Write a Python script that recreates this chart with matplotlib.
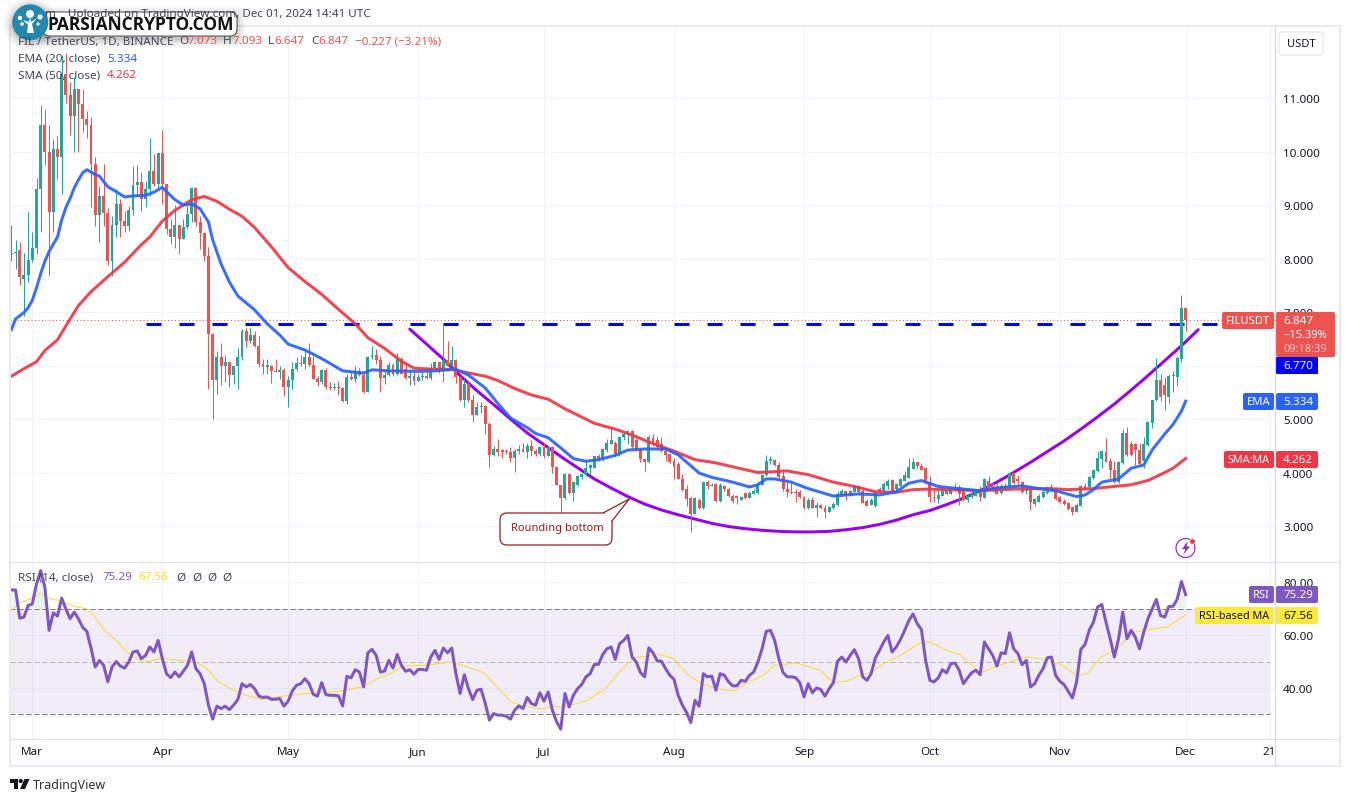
import numpy as np
import matplotlib
matplotlib.use('Agg')
import matplotlib.pyplot as plt
from matplotlib.patches import FancyBboxPatch, Polygon, Circle, Rectangle, Arc

plt.rcParams['font.family'] = ['Noto Sans', 'DejaVu Sans']

# x = days since Mar 1 2024
days = np.arange(-5, 276)

opens = [8.08, 8.10, 8.15, 7.62, 7.70,
         7.97, 8.20, 9.30, 10.50, 10.00, 8.87, 10.05, 9.90, 11.45, 11.05,
         10.67, 11.17, 10.89, 10.60, 10.49, 9.77, 8.81, 9.17, 8.85, 7.96,
         8.62, 9.02, 8.71, 8.60, 8.90, 9.37, 9.43, 9.11, 9.30, 9.64,
         9.39, 9.97, 9.39, 8.55, 8.41, 8.62, 8.36, 8.58, 8.83, 9.31,
         8.68, 8.48, 8.04, 6.59, 5.72, 6.16, 6.00, 6.06, 5.83, 6.00,
         6.15, 6.64, 6.46, 6.57, 6.37, 6.03, 5.98, 6.00, 5.90, 5.87,
         5.91, 5.60, 5.72, 5.93, 6.04, 6.03, 6.15, 6.01, 5.75, 5.69,
         5.92, 5.60, 5.58, 5.60, 5.58, 5.34, 5.78, 5.74, 5.88, 5.82,
         5.51, 6.15, 6.20, 6.10, 5.76, 5.82, 6.01, 5.84, 6.12, 5.93,
         5.76, 5.80, 5.71, 5.78, 5.80, 5.77, 5.95, 6.07, 5.92, 6.10,
         6.00, 6.10, 5.78, 5.35, 5.65, 5.35, 5.08, 5.22, 5.24, 4.91,
         4.33, 4.44, 4.40, 4.39, 4.38, 4.27, 4.40, 4.44, 4.39, 4.50,
         4.40, 4.34, 4.48, 4.31, 4.48, 4.10, 3.77, 3.52, 3.97, 3.61,
         3.76, 3.92, 3.97, 4.08, 4.09, 4.30, 4.25, 4.42, 4.53, 4.55,
         4.35, 4.66, 4.72, 4.78, 4.60, 4.44, 4.26, 4.19, 4.64, 4.60,
         4.53, 4.41, 4.34, 4.22, 4.16, 3.88, 3.70, 3.52, 3.22, 3.49,
         3.34, 3.83, 3.75, 3.79, 3.47, 3.75, 3.70, 3.57, 3.55, 3.49,
         3.61, 3.53, 3.60, 3.62, 3.77, 3.95, 4.22, 4.24, 4.14, 3.93,
         3.70, 3.63, 3.63, 3.64, 3.55, 3.33, 3.49, 3.33, 3.39, 3.34,
         3.27, 3.33, 3.39, 3.58, 3.65, 3.58, 3.64, 3.75, 3.66, 3.47,
         3.40, 3.37, 3.70, 3.66, 3.75, 3.86, 3.70, 3.75, 3.85, 3.90,
         4.07, 4.20, 4.13, 4.08, 3.82, 3.55, 3.50, 3.57, 3.66, 3.60,
         3.70, 3.73, 3.63, 3.49, 3.55, 3.57, 3.63, 3.53, 3.85, 3.78,
         3.74, 3.62, 3.74, 3.74, 4.00, 3.87, 3.83, 3.65, 3.74, 3.42,
         3.45, 3.54, 3.62, 3.67, 3.70, 3.55, 3.47, 3.43, 3.35, 3.27,
         3.38, 3.74, 3.73, 3.90, 4.03, 4.26, 4.39, 4.22, 4.05, 3.82,
         4.18, 4.74, 4.53, 4.53, 4.43, 4.22, 4.52, 4.93, 5.35, 5.73,
         5.63, 5.42, 5.80, 5.79, 6.12, 7.073]

highs = [8.62, 8.34, 8.30, 8.10, 8.87,
         8.50, 9.50, 10.87, 10.80, 10.50, 10.24, 10.29, 11.80, 11.84, 11.30,
         11.39, 11.17, 11.17, 10.76, 10.64, 9.90, 9.36, 9.77, 8.95, 8.80,
         9.30, 9.11, 8.89, 8.99, 9.73, 9.75, 9.61, 9.45, 10.25, 9.95,
         9.98, 10.40, 9.39, 8.74, 9.00, 8.63, 8.74, 8.99, 9.33, 9.33,
         8.80, 8.49, 8.21, 6.60, 6.28, 6.42, 6.20, 6.07, 6.00, 6.33,
         6.68, 6.71, 6.71, 6.65, 6.55, 6.12, 6.12, 6.01, 6.12, 6.00,
         5.96, 5.81, 6.06, 6.15, 6.20, 6.30, 6.42, 6.18, 5.81, 5.93,
         5.96, 5.69, 5.67, 5.71, 5.60, 5.84, 5.90, 5.99, 5.96, 5.87,
         6.18, 6.36, 6.30, 6.18, 5.90, 6.06, 6.04, 6.23, 6.15, 6.06,
         5.93, 5.93, 5.84, 5.90, 5.90, 6.04, 6.09, 6.06, 6.76, 6.46,
         6.37, 6.13, 5.81, 5.75, 5.72, 5.47, 5.31, 5.31, 5.26, 4.94,
         4.50, 4.62, 4.44, 4.44, 4.47, 4.44, 4.52, 4.56, 4.56, 4.60,
         4.44, 4.50, 4.56, 4.50, 4.50, 4.13, 3.77, 4.00, 3.97, 3.85,
         3.95, 3.97, 4.22, 4.16, 4.31, 4.35, 4.45, 4.63, 4.83, 4.58,
         4.69, 4.77, 4.80, 4.80, 4.62, 4.46, 4.26, 4.70, 4.72, 4.68,
         4.66, 4.45, 4.35, 4.28, 4.19, 3.97, 3.77, 3.57, 3.54, 3.52,
         3.83, 3.86, 3.80, 3.80, 3.80, 3.77, 3.72, 3.60, 3.58, 3.57,
         3.62, 3.65, 3.70, 3.85, 3.97, 4.33, 4.30, 4.25, 4.19, 4.06,
         3.88, 3.82, 3.70, 3.68, 3.56, 3.52, 3.55, 3.45, 3.42, 3.39,
         3.37, 3.45, 3.66, 3.70, 3.66, 3.68, 3.77, 3.77, 3.69, 3.50,
         3.52, 3.64, 3.72, 3.82, 3.87, 3.88, 3.81, 3.89, 4.03, 4.28,
         4.28, 4.22, 4.17, 4.10, 3.94, 3.68, 3.68, 3.72, 3.69, 3.72,
         3.80, 3.76, 3.70, 3.60, 3.63, 3.66, 3.75, 3.90, 3.94, 3.81,
         3.81, 3.78, 3.81, 4.01, 4.01, 3.95, 3.85, 3.77, 3.75, 3.53,
         3.60, 3.69, 3.74, 3.78, 3.72, 3.57, 3.50, 3.44, 3.37, 3.43,
         3.77, 3.80, 3.94, 4.06, 4.40, 4.42, 4.64, 4.28, 4.22, 4.22,
         4.81, 4.86, 4.58, 4.56, 4.56, 4.66, 4.97, 5.36, 6.14, 5.85,
         5.78, 5.84, 5.90, 6.18, 7.32, 7.093]

lows = [7.96, 7.81, 7.50, 6.93, 7.57,
        7.93, 8.09, 8.50, 9.74, 7.68, 8.50, 9.49, 9.20, 10.90, 10.30,
        10.00, 10.00, 10.36, 10.25, 8.96, 8.60, 8.30, 8.60, 7.87, 7.68,
        8.41, 8.40, 8.49, 8.52, 8.81, 9.17, 8.89, 8.96, 9.17, 9.36,
        9.30, 9.02, 8.46, 8.27, 8.20, 8.08, 8.36, 8.55, 8.68, 8.60,
        8.18, 7.96, 5.56, 5.00, 5.47, 5.63, 5.70, 5.60, 5.66, 5.56,
        6.10, 6.34, 6.43, 6.34, 5.98, 5.84, 5.84, 5.68, 5.87, 5.75,
        5.43, 5.22, 5.56, 5.90, 6.00, 5.93, 6.00, 5.75, 5.62, 5.65,
        5.56, 5.55, 5.55, 5.44, 5.32, 5.28, 5.72, 5.69, 5.80, 5.49,
        5.50, 6.13, 6.03, 5.50, 5.65, 5.80, 5.80, 5.83, 5.84, 5.75,
        5.64, 5.64, 5.71, 5.72, 5.75, 5.72, 5.90, 5.86, 5.70, 6.00,
        5.99, 5.68, 5.34, 5.22, 5.31, 4.95, 5.07, 5.12, 4.72, 4.11,
        4.30, 4.30, 4.28, 4.34, 4.20, 4.01, 4.35, 4.38, 4.28, 4.30,
        4.30, 4.30, 4.28, 4.30, 4.00, 3.77, 3.25, 3.50, 3.60, 3.46,
        3.74, 3.88, 3.94, 3.97, 4.08, 4.22, 4.22, 4.38, 4.53, 4.30,
        4.30, 4.60, 4.53, 4.46, 4.40, 4.20, 4.03, 4.18, 4.50, 4.46,
        4.38, 4.22, 4.18, 3.88, 3.88, 3.65, 3.38, 2.88, 3.22, 3.32,
        3.32, 3.70, 3.74, 3.45, 3.45, 3.65, 3.55, 3.43, 3.42, 3.48,
        3.50, 3.52, 3.60, 3.60, 3.76, 3.93, 4.16, 4.13, 3.90, 3.66,
        3.55, 3.60, 3.45, 3.53, 3.31, 3.32, 3.33, 3.16, 3.31, 3.15,
        3.26, 3.32, 3.38, 3.57, 3.49, 3.57, 3.63, 3.60, 3.43, 3.37,
        3.39, 3.36, 3.60, 3.63, 3.70, 3.60, 3.68, 3.74, 3.84, 3.89,
        4.06, 4.08, 4.04, 3.78, 3.45, 3.44, 3.43, 3.56, 3.58, 3.59,
        3.69, 3.39, 3.46, 3.44, 3.53, 3.56, 3.47, 3.52, 3.70, 3.63,
        3.60, 3.60, 3.69, 3.72, 3.78, 3.78, 3.62, 3.60, 3.29, 3.38,
        3.44, 3.52, 3.60, 3.65, 3.49, 3.43, 3.39, 3.30, 3.21, 3.26,
        3.37, 3.68, 3.72, 3.88, 4.01, 4.08, 4.19, 3.88, 3.80, 3.80,
        4.15, 4.31, 4.31, 4.14, 4.14, 4.08, 4.50, 4.83, 5.34, 5.34,
        5.16, 5.30, 5.50, 5.62, 6.06, 6.647]

closes = [8.10, 8.13, 7.65, 7.70, 7.97,
          8.20, 9.30, 10.50, 10.00, 8.87, 10.05, 9.90, 11.45, 11.05, 10.67,
          11.17, 10.89, 10.60, 10.49, 9.77, 8.81, 9.17, 8.85, 7.96, 8.62,
          9.02, 8.71, 8.60, 8.90, 9.37, 9.43, 9.11, 9.30, 9.64, 9.39,
          9.97, 9.39, 8.55, 8.41, 8.62, 8.36, 8.58, 8.83, 9.31, 8.68,
          8.48, 8.04, 6.59, 5.72, 6.16, 6.00, 6.06, 5.83, 6.00, 6.15,
          6.64, 6.46, 6.57, 6.37, 6.03, 5.98, 6.00, 5.90, 5.87, 5.91,
          5.60, 5.72, 5.93, 6.04, 6.03, 6.15, 6.01, 5.75, 5.69, 5.92,
          5.60, 5.58, 5.58, 5.58, 5.34, 5.78, 5.74, 5.88, 5.82, 5.51,
          6.15, 6.20, 6.10, 5.76, 5.82, 6.01, 5.84, 6.12, 5.84, 5.76,
          5.80, 5.71, 5.78, 5.80, 5.77, 5.95, 6.07, 5.92, 6.10, 6.00,
          6.10, 5.78, 5.35, 5.65, 5.35, 5.08, 5.22, 5.24, 4.91, 4.33,
          4.44, 4.38, 4.39, 4.38, 4.27, 4.40, 4.44, 4.39, 4.50, 4.40,
          4.34, 4.48, 4.31, 4.48, 4.10, 3.77, 3.52, 3.97, 3.61, 3.82,
          3.93, 3.97, 4.08, 4.14, 4.30, 4.23, 4.44, 4.55, 4.60, 4.35,
          4.66, 4.72, 4.78, 4.48, 4.44, 4.26, 4.19, 4.66, 4.53, 4.48,
          4.41, 4.32, 4.19, 4.10, 3.88, 3.68, 3.50, 3.22, 3.52, 3.34,
          3.83, 3.74, 3.77, 3.47, 3.77, 3.69, 3.57, 3.47, 3.53, 3.55,
          3.53, 3.62, 3.66, 3.79, 3.95, 4.22, 4.23, 4.14, 3.92, 3.69,
          3.63, 3.62, 3.62, 3.54, 3.33, 3.49, 3.33, 3.39, 3.33, 3.27,
          3.35, 3.41, 3.60, 3.66, 3.57, 3.66, 3.75, 3.63, 3.43, 3.38,
          3.49, 3.62, 3.62, 3.79, 3.85, 3.63, 3.78, 3.87, 3.95, 4.10,
          4.20, 4.13, 4.05, 3.80, 3.54, 3.52, 3.58, 3.66, 3.60, 3.70,
          3.71, 3.60, 3.49, 3.57, 3.60, 3.63, 3.55, 3.88, 3.71, 3.70,
          3.60, 3.75, 3.70, 3.99, 3.80, 3.84, 3.63, 3.73, 3.45, 3.50,
          3.57, 3.63, 3.70, 3.72, 3.50, 3.44, 3.41, 3.32, 3.26, 3.39,
          3.74, 3.70, 3.91, 4.05, 4.27, 4.41, 4.20, 4.05, 3.83, 4.20,
          4.74, 4.33, 4.33, 4.42, 4.15, 4.53, 4.94, 5.35, 5.73, 5.42,
          5.44, 5.81, 5.81, 6.14, 7.07, 6.847]

ema_days = [-5, -4, -3, -2, -1, 0, 1, 2, 3, 4, 5, 6, 7, 8, 9, 10, 11, 12, 13, 15, 16, 18, 20, 22, 24, 27, 29, 31, 32,
            34, 36, 38, 40, 42, 43, 45, 47, 49, 53, 56, 59, 61, 65, 69, 74, 79, 81, 85, 92, 96, 101, 104, 108, 111,
            114, 118, 120, 123, 126, 129, 132, 135, 139, 142, 146, 151, 154, 159, 162, 167, 171, 173, 175, 177, 181,
            185, 191, 197, 202, 206, 209, 212, 216, 222, 226, 231, 236, 240, 244, 249, 251, 253, 255, 259, 262, 265,
            267, 270, 272, 274, 275]
ema_vals = [6.67, 6.87, 6.93, 6.99, 7.08, 7.22, 7.45, 7.72, 7.95, 8.13, 8.27, 8.40, 8.72, 8.95, 9.12, 9.32, 9.47, 9.60,
            9.66, 9.57, 9.54, 9.34, 9.25, 9.15, 9.17, 9.18, 9.24, 9.33, 9.25, 9.10, 9.00, 9.02, 8.93, 8.68, 8.35, 7.90,
            7.56, 7.30, 7.04, 6.78, 6.57, 6.40, 6.29, 6.13, 5.90, 5.86, 5.92, 5.90, 5.89, 5.90, 5.93, 5.82, 5.58, 5.29,
            5.02, 4.84, 4.73, 4.65, 4.46, 4.26, 4.21, 4.24, 4.32, 4.42, 4.44, 4.44, 4.33, 3.99, 3.91, 3.82, 3.73, 3.77,
            3.88, 3.88, 3.82, 3.70, 3.56, 3.60, 3.58, 3.64, 3.80, 3.85, 3.74, 3.69, 3.66, 3.72, 3.75, 3.70, 3.66, 3.55,
            3.58, 3.68, 3.82, 3.88, 4.08, 4.14, 4.42, 4.72, 4.90, 5.15, 5.334]

sma_days = [-5, -2, 1, 3, 6, 9, 11, 14, 18, 22, 26, 28, 31, 34, 38, 41, 44, 47, 50, 53, 57, 61, 65, 69, 73, 77, 80, 84,
            88, 91, 96, 100, 104, 108, 111, 115, 119, 123, 127, 134, 139, 143, 147, 153, 158, 163, 169, 173, 180, 185,
            191, 196, 201, 206, 210, 214, 226, 234, 242, 247, 253, 258, 262, 266, 270, 272, 275]
sma_vals = [5.80, 5.94, 6.07, 6.28, 6.48, 6.87, 7.12, 7.38, 7.66, 7.93, 8.26, 8.40, 8.70, 8.90, 9.10, 9.16, 9.07, 8.92,
            8.79, 8.58, 8.22, 7.83, 7.57, 7.33, 7.05, 6.78, 6.52, 6.32, 6.08, 5.95, 5.93, 5.93, 5.86, 5.80, 5.72, 5.57,
            5.45, 5.37, 5.19, 4.92, 4.81, 4.70, 4.57, 4.40, 4.24, 4.18, 4.07, 4.00, 4.03, 3.96, 3.82, 3.74, 3.64, 3.63,
            3.68, 3.69, 3.66, 3.69, 3.70, 3.68, 3.70, 3.74, 3.77, 3.85, 4.00, 4.08, 4.262]

curve_days = [90, 94, 98, 102, 106, 110, 114, 118, 122, 126, 130, 134, 138, 142, 146, 150, 154, 158, 162, 166, 170,
              174, 178, 182, 186, 190, 194, 198, 202, 206, 210, 214, 218, 222, 226, 230, 234, 238, 242, 246, 250, 254,
              258, 262, 266, 270, 274, 278]
curve_vals = [6.68, 6.40, 6.12, 5.81, 5.53, 5.27, 5.00, 4.74, 4.52, 4.30, 4.09, 3.88, 3.71, 3.55, 3.41, 3.30, 3.21,
              3.13, 3.05, 2.99, 2.95, 2.92, 2.90, 2.89, 2.89, 2.90, 2.93, 2.97, 3.03, 3.11, 3.21, 3.29, 3.40, 3.52,
              3.66, 3.82, 4.00, 4.19, 4.39, 4.59, 4.81, 5.04, 5.28, 5.54, 5.81, 6.09, 6.37, 6.67]

rsi_vals = [77.1, 77.1, 66.4, 66.8, 71.2,
            71.8, 79.4, 84.4, 78.1, 61.8, 68.4, 67.2, 74.0, 69.9, 66.2,
            68.7, 66.2, 63.0, 61.4, 55.1, 47.9, 50.4, 48.6, 42.3, 47.9,
            50.0, 48.3, 47.5, 49.8, 53.6, 54.0, 51.1, 52.3, 55.5, 53.6,
            58.0, 51.1, 45.4, 43.9, 46.0, 44.2, 46.3, 48.6, 53.6, 47.3,
            45.4, 41.6, 33.5, 28.2, 33.1, 32.2, 33.1, 31.8, 33.5, 35.6,
            41.6, 40.4, 41.3, 39.7, 36.9, 36.4, 36.6, 35.7, 35.7, 36.0,
            33.1, 35.0, 38.9, 41.0, 41.6, 43.5, 41.6, 37.6, 36.9, 42.0,
            37.5, 37.2, 37.2, 37.0, 33.2, 44.4, 43.8, 46.9, 46.0, 40.4,
            53.3, 54.6, 52.3, 46.0, 46.4, 50.4, 47.5, 52.7, 48.6, 46.3,
            46.9, 45.2, 47.0, 47.0, 46.7, 51.7, 54.2, 50.8, 55.1, 53.3,
            55.1, 45.4, 37.9, 45.0, 39.7, 35.6, 39.1, 39.5, 34.1, 27.8,
            30.3, 29.7, 29.7, 29.3, 28.2, 31.6, 33.2, 32.2, 36.4, 34.1,
            33.5, 38.2, 35.0, 38.5, 31.6, 27.2, 24.4, 37.9, 32.8, 37.2,
            39.7, 41.3, 44.2, 45.4, 48.9, 48.9, 52.6, 54.8, 55.5, 50.8,
            56.7, 58.0, 59.9, 51.7, 49.8, 45.8, 44.2, 55.2, 53.3, 50.2,
            50.1, 47.3, 44.8, 43.3, 37.2, 33.5, 30.7, 26.9, 35.3, 33.1,
            45.4, 44.2, 44.5, 39.1, 45.4, 44.8, 42.3, 40.8, 40.8, 42.9,
            42.5, 44.8, 46.0, 49.8, 54.8, 61.4, 61.8, 58.0, 51.1, 45.8,
            44.2, 44.2, 43.9, 42.0, 36.6, 41.6, 38.2, 40.0, 39.4, 36.9,
            39.7, 42.0, 50.1, 51.7, 49.8, 52.3, 54.5, 51.1, 44.2, 42.9,
            45.4, 51.3, 54.2, 57.4, 59.9, 53.6, 55.5, 58.3,
            61.8, 65.5, 68.0, 64.3, 62.1, 50.4, 42.9, 42.3, 43.8, 46.9,
            45.7, 49.2, 49.4, 46.7, 41.6, 43.8, 45.8, 46.7, 45.0, 57.4,
            54.8, 52.3, 48.3, 53.3, 53.0, 60.9, 54.8, 53.0, 48.8, 50.4,
            40.4, 41.6, 44.8, 47.3, 51.4, 51.7, 44.8, 42.5, 41.3, 38.7,
            36.2, 42.3, 54.6, 56.4, 61.8, 64.9, 70.6, 71.6, 64.9, 58.6,
            51.7, 58.6, 68.7, 58.6, 61.8, 59.2, 54.8, 61.1, 66.2, 69.9,
            73.5, 67.4, 66.8, 70.8, 70.9, 73.7, 80.3, 75.29]

rsi_ma_days = [-5, -3, 0, 2, 4, 7, 10, 13, 15, 17, 20, 22.5, 25, 27, 31, 35, 39, 41.6, 44.4, 48, 51, 54.7, 58.3, 61.4,
               65.4, 74.2, 79, 82, 85.3, 88.5, 94, 99.6, 102, 107.6, 111.6, 114, 117, 122, 123.5, 126.6, 132.2, 136.6,
               140.2, 143.3, 146.5, 149.3, 152.9, 156, 159.2, 163.2, 167.2, 171, 174.3, 177, 182.3, 187.9, 191, 194.2,
               197.4, 200, 203, 207, 210, 212.5, 214, 218, 221.2, 226, 230, 234, 237, 242, 246, 249, 251.5, 254.8,
               258.6, 262.6, 265.7, 268, 270.5, 272.9, 275]
rsi_ma_vals = [69.3, 72.2, 74.0, 75.8, 74.0, 72.7, 70.9, 69.9, 66.8, 62.1, 58.0, 53.6, 51.1, 49.8, 51.3, 50.4, 49.8,
               47.3, 42.3, 39.1, 37.2, 35.6, 36.6, 37.2, 37.9, 38.9, 40.6, 43.3, 45.4, 48.3, 48.6, 49.8, 48.8, 45.8,
               39.1, 35.0, 33.1, 32.0, 33.1, 32.6, 35.3, 39.7, 46.4, 51.3, 52.0, 52.9, 51.1, 45.4, 42.0, 39.5, 38.9,
               42.3, 44.8, 48.6, 49.4, 46.7, 41.9, 42.6, 44.8, 46.0, 49.2, 52.3, 55.5, 57.4, 57.4, 54.2, 52.6, 45.8,
               48.2, 50.4, 51.7, 50.7, 48.3, 44.5, 45.4, 51.7, 54.8, 61.1, 61.8, 62.6, 63.0, 65.5, 67.56]

month_days = [0, 31, 61, 92, 122, 153, 184, 214, 245, 275, 295]
month_labels = ['Mar', 'Apr', 'May', 'Jun', 'Jul', 'Aug', 'Sep', 'Oct', 'Nov', 'Dec', '21']
price_ticks = [3, 4, 5, 6, 7, 8, 9, 10, 11]
rsi_ticks = [40, 60, 80]
resistance = 6.77
last_close = 6.847

UP = '#26A69A'
DOWN = '#EF5350'
EMA_C = '#2962FF'
SMA_C = '#F23645'
RSI_C = '#7E57C2'
MA_C = '#FDD835'
GRID = '#F0F3FA'
FRAME = '#E0E3EB'
TXT = '#131722'
LEG = '#434651'

W, H = 1350, 803
PX = 0.72  # points per pixel at dpi 100
FS = 8.4


def box(left, top, right, bottom):
    return [left / W, 1 - bottom / H, (right - left) / W, (bottom - top) / H]


fig = plt.figure(figsize=(13.5, 8.03), dpi=100)
ax = fig.add_axes(box(10, 27, 1275, 562))
rsi_ax = fig.add_axes(box(10, 563, 1275, 740))

# ---- price pane ----
ax.set_xlim(-5.32, 296.3)
ax.set_ylim(2.346, 12.346)
ax.set_xticks(month_days)
ax.set_yticks(price_ticks)
ax.set_yticklabels(['%.3f' % t for t in price_ticks], fontsize=FS, color=TXT)
ax.yaxis.tick_right()
ax.tick_params(axis='y', length=0, pad=5.8)
ax.tick_params(axis='x', length=0, labelbottom=False)
ax.grid(True, color=GRID, lw=1 * PX)
ax.set_axisbelow(True)
for s in ax.spines.values():
    s.set_visible(False)

ax.axhline(last_close, color=DOWN, lw=1 * PX, dashes=(1, 2.5), zorder=1.5)
ax.plot([27.12, 282.6], [resistance, resistance], color='#0000FF', lw=3 * PX, dashes=(5, 6),
        dash_capstyle='butt', zorder=2)
ax.plot(curve_days, curve_vals, color='#9900EF', lw=3 * PX, solid_capstyle='round', zorder=2.5)

o = np.array(opens)
h = np.array(highs)
l = np.array(lows)
c = np.array(closes)
colors = [UP if cc >= oo else DOWN for oo, cc in zip(o, c)]
ax.vlines(days, l, h, colors=colors, lw=1 * PX, zorder=3)
ax.bar(days, np.maximum(np.abs(c - o), 0.025), bottom=np.minimum(o, c), width=0.7, color=colors, lw=0, zorder=3)

ax.plot(sma_days, sma_vals, color=SMA_C, lw=3 * PX, alpha=0.92, solid_joinstyle='round', zorder=4)
ax.plot(ema_days, ema_vals, color=EMA_C, lw=3 * PX, alpha=0.92, solid_joinstyle='round', zorder=5)

# ---- rsi pane ----
rsi = np.array(rsi_vals)
rsi_ax.set_xlim(-5.32, 296.3)
rsi_ax.set_ylim(20.68, 87.66)
rsi_ax.set_xticks(month_days)
rsi_ax.set_xticklabels(month_labels, fontsize=FS, color=TXT)
rsi_ax.set_yticks(rsi_ticks)
rsi_ax.set_yticklabels(['%.2f' % t for t in rsi_ticks], fontsize=FS, color=TXT)
rsi_ax.yaxis.tick_right()
rsi_ax.tick_params(axis='y', length=0, pad=5.8)
rsi_ax.tick_params(axis='x', length=0, pad=5)
rsi_ax.grid(True, color=GRID, lw=1 * PX)
rsi_ax.set_axisbelow(True)
for s in rsi_ax.spines.values():
    s.set_visible(False)

rsi_ax.fill_between([-5.32, 295], 30, 70, color=RSI_C, alpha=0.1, lw=0, zorder=1)
rsi_ax.plot([-5.32, 295], [70, 70], color='#787B86', lw=1 * PX, dashes=(5, 3), zorder=2)
rsi_ax.plot([-5.32, 295], [50, 50], color='#787B86', lw=1 * PX, dashes=(5, 3), alpha=0.5, zorder=2)
rsi_ax.plot([-5.32, 295], [30, 30], color='#787B86', lw=1 * PX, dashes=(5, 3), zorder=2)
rsi_ax.fill_between(days, 70, rsi, where=rsi > 70, interpolate=True, color='#4CAF50', alpha=0.12, lw=0, zorder=2)
rsi_ax.plot(rsi_ma_days, rsi_ma_vals, color=MA_C, lw=1 * PX, zorder=3)
rsi_ax.plot(days, rsi, color=RSI_C, lw=3 * PX, solid_joinstyle='round', zorder=4)

# ---- overlay in pixel coordinates for frame, labels and tags ----
ov = fig.add_axes([0, 0, 1, 1], zorder=10)
ov.set_xlim(0, W)
ov.set_ylim(H, 0)
ov.axis('off')
ov.patch.set_alpha(0)

ov.add_patch(Rectangle((10, 27), 1330, 740, fill=False, ec='#E8EAF0', lw=2 * PX))
ov.plot([10, 1340], [562.5, 562.5], color=FRAME, lw=1.2 * PX)
ov.plot([10, 1340], [740, 740], color=FRAME, lw=1.2 * PX)
ov.plot([1275, 1275], [27, 767], color='#D6D8E0', lw=1.2 * PX)


def label(x, y, s, color=LEG, size=FS, ha='left', **kw):
    ov.text(x, y, s, color=color, fontsize=size, ha=ha, va='center', **kw)


def filled(x0, x1, y0, y1, color, r=2):
    ov.add_patch(FancyBboxPatch((x0, y0), x1 - x0, y1 - y0, boxstyle='round,pad=0,rounding_size=%g' % r,
                                fc=color, ec='none', mutation_aspect=1))


# legend lines
label(371, 14, 'm    Uploaded on TradingView.com, Dec 01, 2024 14:41 UTC', ha='right')
label(18, 42, 'FIL / TetherUS, 1D, BINANCE')
for x, s in [(179, 'O'), (223, 'H'), (268, 'L'), (311, 'C')]:
    label(x, 42, s)
for x, s in [(187, '7.073'), (232, '7.093'), (274, '6.647'), (318, '6.847'), (355, '\u22120.227 (\u22123.21%)')]:
    label(x, 42, s, color=DOWN)
label(18, 59, 'EMA (20, close)')
label(107, 59, '5.334', color=EMA_C)
label(18, 76, 'SMA (50, close)')
label(107, 76, '4.262', color=SMA_C)
label(18, 578, 'RSI (14, close)')
label(102, 578, '75.29', color=RSI_C)
label(138, 578, '67.56', color=MA_C)
for x in [176, 192, 207, 222]:
    label(x, 578, '\u00d8')

# watermark
for grow, al in [(9, 0.02), (7, 0.03), (5, 0.04), (3, 0.06), (1, 0.08)]:
    ov.add_patch(FancyBboxPatch((43 - grow, 13 - grow + 3), 194 + 2 * grow, 24 + 2 * grow,
                                boxstyle='round,pad=0,rounding_size=8', fc='#000000', ec='none', alpha=al))
    ov.add_patch(Circle((30.3, 25), 18 + grow, fc='#000000', ec='none', alpha=al))
ov.add_patch(FancyBboxPatch((43, 13), 194, 24, boxstyle='round,pad=0,rounding_size=7', fc='white', ec='#222222',
                            lw=0.8 * PX))
ov.add_patch(Circle((30.3, 23.3), 18, fc='#2488AE', ec='none'))
ov.add_patch(Polygon([[27, 34], [34, 34], [32, 25], [37, 19], [31, 23], [30, 17], [29, 23], [23, 21], [28, 26]],
                     fc='white', ec='none'))
for cx, cy, r in [(30, 15, 4), (20, 19, 2.2), (40, 18, 2.6), (22, 25, 1.8), (38, 25, 1.6)]:
    ov.add_patch(Circle((cx, cy), r, fc='white', ec='none'))
ov.text(140.5, 25, 'PARSIANCRYPTO.COM', color='#111111', fontsize=12.5, fontweight='bold', ha='center', va='center',
        family='Open Sans')

# callout
ov.add_patch(FancyBboxPatch((500, 514), 112, 32, boxstyle='round,pad=0,rounding_size=7', fc='white', ec='#8E1B1B',
                            lw=1.2 * PX))
ov.add_patch(Polygon([[604, 514], [629.3, 500], [612, 522]], fc='white', ec='none'))
ov.plot([604, 629.3, 612], [513.5, 500, 522], color='#8E1B1B', lw=1.2 * PX)
label(557, 529, 'Rounding bottom', color='#9B1B1B', size=8.0, ha='center')

# USDT box
ov.add_patch(FancyBboxPatch((1279, 33), 44, 23, boxstyle='round,pad=0,rounding_size=3', fc='white', ec='#E0E3EB',
                            lw=1 * PX))
label(1301, 44.5, 'USDT', color=TXT, size=8.0, ha='center')

# price tags
filled(1222, 1274, 313, 330, DOWN)
label(1248, 321.5, 'FILUSDT', color='white', size=8.0, ha='center')
filled(1276, 1335, 313, 358, DOWN)
label(1283, 321.5, '6.847', color='white')
label(1283, 335.5, '\u221215.39%', color='white', size=8.0)
label(1283, 349.5, '09:18:39', color='#F9C5C4', size=8.0)
filled(1276, 1318, 358, 375, '#0000FF', r=1)
label(1283, 367, '6.770', color='white')
filled(1243, 1274, 394, 411, EMA_C)
label(1258.5, 402.5, 'EMA', color='white', size=8.0, ha='center')
filled(1276, 1318, 394, 411, EMA_C)
label(1283, 402.5, '5.334', color='white')
filled(1224, 1274, 452, 469, SMA_C)
label(1249, 460.5, 'SMA:MA', color='white', size=7.8, ha='center')
filled(1276, 1318, 452, 469, SMA_C)
label(1283, 460.5, '4.262', color='white')
filled(1249, 1274, 587, 604, RSI_C)
label(1261.5, 595.5, 'RSI', color='white', size=8.0, ha='center')
filled(1276, 1318, 587, 604, RSI_C)
label(1283, 595.5, '75.29', color='white')
filled(1195, 1274, 608, 625, '#FFE93B')
label(1234.5, 616.5, 'RSI-based MA', color=TXT, size=7.8, ha='center')
filled(1276, 1318, 608, 625, '#FFE93B')
label(1283, 616.5, '67.56', color=TXT)

# lightning icon
ov.add_patch(Arc((1185.5, 549), 19, 19, angle=0, theta1=0, theta2=360, ec='#9C27B0', lw=1.2 * PX))
ov.add_patch(Polygon([[1188, 542], [1182, 550], [1185.5, 550], [1183, 556], [1190, 547.5], [1186.5, 547.5]],
                     fc='#9C27B0', ec='none'))
ov.add_patch(Circle((1192.5, 542.5), 2.8, fc='#F23645', ec='white', lw=0.5))

# TradingView mark
ov.add_patch(Polygon([[10, 780], [18, 780], [18, 790], [14, 790], [14, 784], [10, 784]], fc=TXT, ec='none'))
ov.add_patch(Circle((20.7, 782), 2.1, fc=TXT, ec='none'))
ov.add_patch(Polygon([[24.5, 780], [29.5, 780], [25, 790], [20, 790]], fc=TXT, ec='none'))
label(33, 785.5, 'TradingView', color='#333333', size=9.0)

fig.savefig('out.png', dpi=100)
